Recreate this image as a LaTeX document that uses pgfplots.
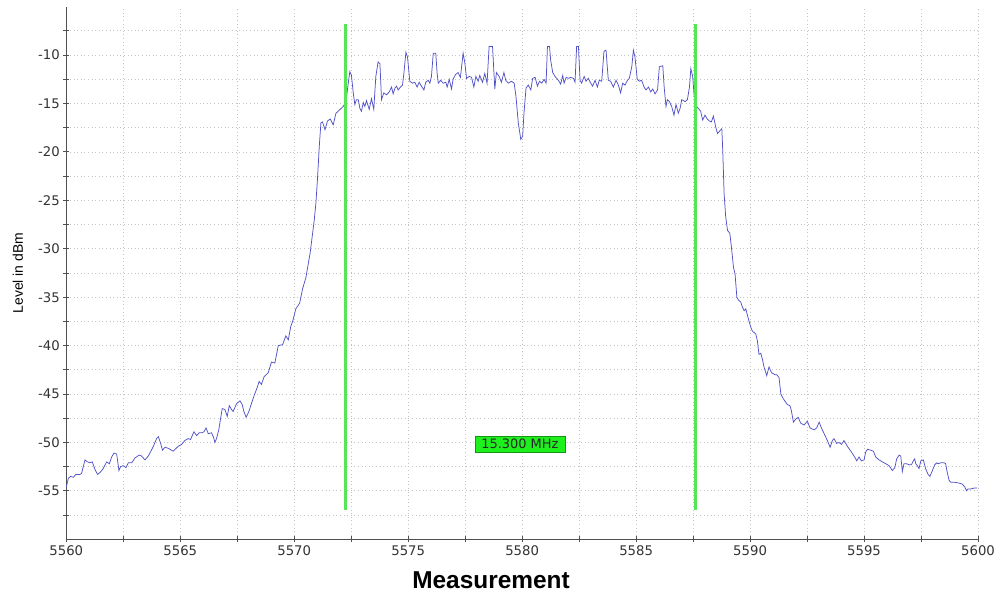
\documentclass[border=0pt]{standalone}
\usepackage{fontspec}
\setmainfont{DejaVu Sans}
\newfontfamily\labelfont{Liberation Sans}
\usepackage{pgfplots}
\pgfplotsset{compat=1.18}
\definecolor{trace}{RGB}{82,82,200}
\definecolor{mkgreen}{RGB}{85,230,85}
\definecolor{boxgreen}{RGB}{30,240,30}
\definecolor{boxedge}{RGB}{20,150,20}
\definecolor{axisgray}{RGB}{80,80,80}
\definecolor{gridgray}{RGB}{195,195,195}
\definecolor{ticktext}{RGB}{50,50,50}
\begin{document}
\begin{tikzpicture}[x=1bp,y=1bp]
\useasboundingbox (0,0) rectangle (1000,596);
\begin{axis}[
  at={(66.3bp,56.7bp)}, anchor=south west,
  scale only axis, width=911.7bp, height=532.6bp,
  xmin=5560, xmax=5600, ymin=-60, ymax=-5,
  axis lines*=left,
  axis line style={-, axisgray, line width=1.1bp},
  xtick={5560,5565,...,5600},
  minor xtick={5562.5,5567.5,...,5597.5},
  ytick={-55,-50,...,-10},
  minor ytick={-57.5,-52.5,...,-7.5},
  grid=both,
  major grid style={gridgray, dash pattern=on 0.8bp off 2.8bp, line width=0.8bp},
  minor grid style={gridgray, dash pattern=on 0.8bp off 2.8bp, line width=0.8bp},
  tick align=center,
  major tick length=6bp, minor tick length=6bp,
  tick style={axisgray, line width=0.9bp},
  scaled ticks=false,
  tick label style={font=\fontsize{13.3}{15}\selectfont, text=ticktext,
    /pgf/number format/assume math mode=true},
  /pgf/number format/1000 sep={},
  xlabel={Measurement},
  xlabel style={font=\labelfont\bfseries\fontsize{24.5}{28}\selectfont,
    at={(axis description cs:0.4658,-0.0764)}, anchor=center},
  ylabel={Level in dBm},
  ylabel style={font=\labelfont\fontsize{14}{16}\selectfont, text=black,
    at={(axis description cs:-0.0530,0.5)}, anchor=center},
  clip=false,
]
\addplot[trace, line width=0.75bp] table {
5560.00 -54.6
5560.09 -53.7
5560.19 -53.5
5560.31 -53.6
5560.42 -53.3
5560.60 -53.3
5560.67 -53.2
5560.82 -51.8
5560.92 -52.0
5561.04 -52.1
5561.14 -52.0
5561.26 -52.8
5561.37 -53.3
5561.48 -53.1
5561.62 -52.7
5561.77 -52.0
5561.89 -52.2
5561.99 -51.5
5562.09 -51.1
5562.21 -51.2
5562.31 -52.9
5562.38 -52.5
5562.50 -52.4
5562.62 -52.6
5562.72 -52.1
5562.87 -52.1
5563.01 -51.6
5563.20 -51.3
5563.30 -51.4
5563.45 -51.8
5563.60 -51.4
5563.82 -50.4
5563.96 -49.6
5564.04 -49.4
5564.14 -50.1
5564.22 -50.8
5564.33 -50.5
5564.47 -50.6
5564.69 -50.9
5564.91 -50.4
5565.06 -50.2
5565.20 -49.8
5565.35 -49.6
5565.45 -49.7
5565.60 -48.9
5565.72 -49.3
5565.83 -49.0
5565.94 -49.0
5566.04 -48.9
5566.13 -48.5
5566.23 -49.1
5566.37 -49.0
5566.45 -49.4
5566.52 -50.0
5566.59 -49.6
5566.69 -48.7
5566.84 -46.5
5566.96 -46.6
5567.06 -47.3
5567.15 -46.2
5567.25 -46.6
5567.32 -46.8
5567.47 -46.0
5567.62 -45.7
5567.72 -46.1
5567.79 -46.8
5567.89 -47.4
5568.01 -46.8
5568.12 -46.0
5568.25 -45.1
5568.38 -44.3
5568.46 -43.7
5568.56 -44.0
5568.68 -43.2
5568.86 -42.8
5569.00 -41.7
5569.15 -41.8
5569.30 -40.0
5569.49 -39.9
5569.63 -39.0
5569.74 -39.4
5569.85 -38.0
5569.93 -37.5
5570.07 -36.2
5570.24 -35.6
5570.37 -34.1
5570.51 -33.0
5570.70 -30.4
5570.88 -27.0
5570.95 -25.3
5571.02 -22.8
5571.10 -19.4
5571.17 -17.0
5571.24 -16.9
5571.35 -17.7
5571.46 -16.8
5571.58 -16.6
5571.71 -17.2
5571.83 -16.0
5571.97 -15.7
5572.15 -15.3
5572.27 -14.8
5572.37 -12.9
5572.44 -11.7
5572.51 -12.1
5572.59 -13.9
5572.66 -15.1
5572.73 -14.6
5572.81 -14.6
5572.88 -15.5
5572.95 -15.8
5573.03 -14.9
5573.10 -15.3
5573.17 -14.7
5573.29 -15.6
5573.39 -14.5
5573.49 -15.6
5573.58 -12.2
5573.68 -10.7
5573.76 -10.9
5573.83 -14.6
5573.93 -13.9
5574.05 -14.1
5574.17 -13.8
5574.27 -13.3
5574.34 -14.0
5574.42 -13.4
5574.49 -13.2
5574.56 -13.6
5574.66 -13.3
5574.75 -13.1
5574.81 -11.9
5574.90 -9.7
5574.97 -10.2
5575.07 -12.7
5575.19 -12.9
5575.29 -12.8
5575.39 -13.3
5575.48 -12.8
5575.58 -13.2
5575.69 -13.6
5575.77 -12.8
5575.88 -12.6
5575.95 -12.9
5576.02 -12.2
5576.10 -9.8
5576.21 -9.8
5576.27 -11.9
5576.32 -12.9
5576.42 -12.6
5576.54 -12.9
5576.65 -12.8
5576.71 -13.3
5576.80 -12.5
5576.90 -13.5
5576.97 -12.5
5577.08 -12.0
5577.19 -11.8
5577.29 -12.3
5577.41 -9.8
5577.49 -10.9
5577.56 -12.4
5577.68 -12.2
5577.78 -12.3
5577.88 -13.3
5577.97 -12.2
5578.07 -12.7
5578.14 -12.1
5578.26 -12.8
5578.36 -11.9
5578.46 -12.9
5578.55 -9.1
5578.70 -9.1
5578.80 -13.5
5578.87 -11.8
5578.99 -12.2
5579.09 -12.8
5579.20 -11.8
5579.28 -12.6
5579.39 -12.9
5579.53 -12.7
5579.65 -12.9
5579.73 -14.3
5579.83 -17.0
5579.94 -18.7
5580.02 -18.4
5580.08 -16.0
5580.17 -13.4
5580.27 -13.1
5580.38 -13.6
5580.46 -12.4
5580.57 -12.3
5580.67 -13.2
5580.76 -12.7
5580.86 -12.9
5580.96 -12.5
5581.05 -12.9
5581.11 -9.1
5581.20 -9.1
5581.25 -10.5
5581.34 -11.8
5581.44 -12.2
5581.59 -12.6
5581.69 -13.0
5581.78 -12.1
5581.84 -12.9
5581.93 -12.3
5582.03 -12.4
5582.13 -12.3
5582.25 -12.4
5582.32 -12.8
5582.39 -9.1
5582.47 -9.1
5582.54 -12.6
5582.61 -12.9
5582.72 -12.2
5582.80 -12.7
5582.90 -12.4
5583.01 -12.9
5583.09 -13.2
5583.20 -12.6
5583.30 -13.3
5583.38 -12.6
5583.49 -12.7
5583.59 -9.6
5583.68 -9.5
5583.78 -12.6
5583.88 -12.7
5584.00 -13.3
5584.12 -12.6
5584.22 -13.1
5584.32 -13.9
5584.41 -12.9
5584.51 -13.1
5584.62 -12.6
5584.70 -12.4
5584.81 -11.2
5584.88 -9.5
5584.95 -10.2
5585.05 -12.5
5585.14 -12.7
5585.24 -12.6
5585.35 -13.3
5585.43 -13.6
5585.54 -13.3
5585.64 -13.8
5585.73 -13.5
5585.83 -14.0
5585.94 -13.6
5586.02 -11.2
5586.17 -11.1
5586.23 -13.3
5586.31 -15.3
5586.37 -14.6
5586.46 -14.8
5586.56 -15.3
5586.66 -16.2
5586.75 -15.1
5586.85 -16.0
5586.93 -15.5
5587.00 -14.6
5587.15 -14.8
5587.25 -14.6
5587.34 -13.3
5587.40 -11.4
5587.48 -12.2
5587.55 -14.3
5587.65 -15.3
5587.73 -15.5
5587.83 -15.8
5587.92 -16.7
5588.02 -16.2
5588.12 -16.6
5588.21 -16.8
5588.30 -16.9
5588.39 -16.3
5588.49 -17.4
5588.57 -18.1
5588.68 -17.8
5588.76 -17.6
5588.80 -19.8
5588.86 -24.3
5588.93 -26.7
5589.01 -28.1
5589.11 -28.4
5589.18 -29.8
5589.27 -31.9
5589.34 -32.6
5589.42 -35.0
5589.49 -35.3
5589.59 -35.5
5589.66 -36.0
5589.74 -36.4
5589.81 -36.2
5589.91 -37.1
5590.03 -38.1
5590.10 -38.5
5590.25 -38.8
5590.32 -39.5
5590.39 -40.9
5590.47 -40.8
5590.54 -41.4
5590.61 -42.2
5590.73 -43.1
5590.83 -42.2
5590.94 -42.8
5591.02 -42.9
5591.08 -43.0
5591.17 -43.0
5591.27 -43.3
5591.35 -45.0
5591.46 -45.5
5591.64 -46.1
5591.75 -46.2
5591.81 -46.7
5591.90 -47.9
5592.00 -47.6
5592.11 -47.4
5592.22 -48.0
5592.37 -48.2
5592.51 -47.8
5592.63 -48.5
5592.81 -48.7
5592.92 -48.5
5593.03 -47.9
5593.13 -48.5
5593.25 -49.1
5593.39 -49.8
5593.51 -50.5
5593.61 -49.8
5593.68 -49.6
5593.80 -50.1
5593.90 -50.0
5594.01 -50.2
5594.12 -49.8
5594.27 -50.4
5594.42 -50.9
5594.56 -51.4
5594.68 -51.9
5594.78 -51.5
5594.88 -51.9
5595.00 -51.8
5595.07 -51.0
5595.15 -50.7
5595.29 -50.8
5595.41 -50.9
5595.51 -51.5
5595.66 -51.8
5595.80 -52.0
5595.95 -52.2
5596.10 -52.4
5596.24 -52.9
5596.35 -52.6
5596.43 -51.7
5596.54 -51.3
5596.61 -51.4
5596.68 -53.0
5596.75 -52.2
5596.87 -52.2
5596.97 -52.3
5597.08 -52.3
5597.16 -51.9
5597.22 -51.7
5597.27 -52.2
5597.34 -52.4
5597.41 -52.7
5597.49 -51.9
5597.60 -51.8
5597.70 -52.7
5597.81 -53.3
5597.89 -53.5
5598.00 -52.9
5598.10 -52.3
5598.19 -52.1
5598.25 -52.2
5598.36 -52.1
5598.51 -52.1
5598.58 -52.2
5598.65 -53.1
5598.73 -53.9
5598.80 -54.1
5598.95 -54.1
5599.17 -54.2
5599.31 -54.3
5599.42 -54.6
5599.50 -55.0
5599.56 -54.8
5599.68 -54.8
5599.85 -54.7
5599.97 -54.7
};
\addplot[mkgreen, line width=3bp] coordinates {(5572.25,-56.95) (5572.25,-6.8)};
\addplot[mkgreen, line width=3bp] coordinates {(5587.6,-56.95) (5587.6,-6.8)};
\node[fill=boxgreen, draw=boxedge, line width=0.6bp, inner xsep=6.5bp, inner ysep=3bp,
  font=\fontsize{13}{15}\selectfont, text=black!85] at (axis cs:5579.9,-50.15) {15.300 MHz};
\end{axis}
\end{tikzpicture}
\end{document}
